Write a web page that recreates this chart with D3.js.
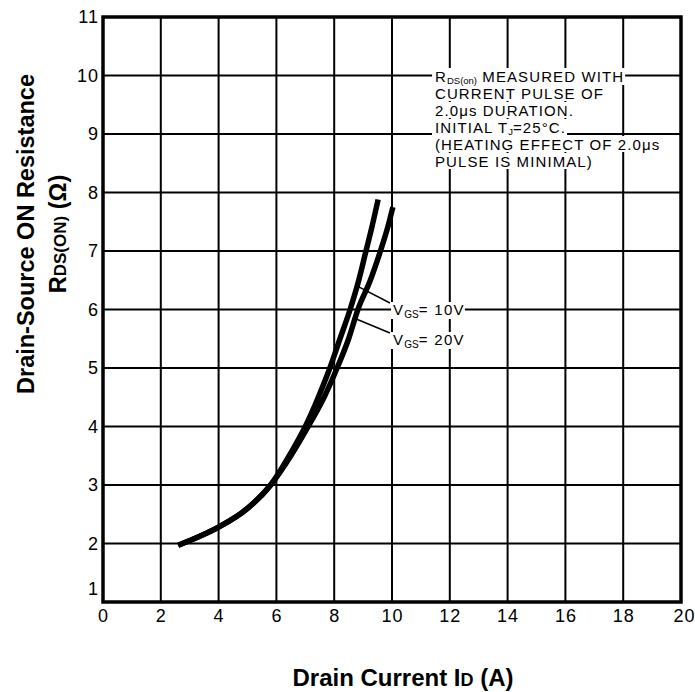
<!DOCTYPE html>
<html>
<head>
<meta charset="utf-8">
<script src="https://cdn.jsdelivr.net/npm/d3@7"></script>
<style>
  body { margin: 0; background: #fff; }
  text { font-family: "Liberation Sans", Arial, Helvetica, sans-serif; fill: #000; }
</style>
</head>
<body>
<div id="chart"></div>
<script>
// axis ticks
const xTicks = [0, 2, 4, 6, 8, 10, 12, 14, 16, 18, 20];
const yTicks = [1, 2, 3, 4, 5, 6, 7, 8, 9, 10, 11];

// curves: [Id (A), Rds(on) (ohm)]
const vgs10 = [[2.6, 1.97], [3, 2.05], [4, 2.28], [5, 2.6], [5.8, 3.0], [6.5, 3.55], [7.0, 4.0],
  [7.45, 4.5], [7.85, 5.0], [8.2, 5.5], [8.55, 6.0], [8.85, 6.5], [9.1, 7.0], [9.3, 7.4], [9.52, 7.88]];
const vgs20 = [[2.6, 1.97], [3, 2.05], [4, 2.28], [5, 2.6], [5.8, 3.0], [6.5, 3.5], [7.1, 4.0],
  [7.65, 4.5], [8.1, 5.0], [8.5, 5.5], [8.82, 6.0], [9.25, 6.5], [9.6, 7.0], [9.85, 7.4], [10.03, 7.75]];

// where the label leaders touch each curve
const leaderPoints = [[8.8, 6.4], [8.7, 5.85]];
const curveLabels = ["10V", "20V"];

(function () {

    const width = 695;
    const height = 692;

    const svg = d3.select('#chart')
        .append('svg')
        .attr('width', width)
        .attr('height', height);

    const x = d3.scaleLinear().domain([0, 20]).range([103, 681]);
    const y = d3.scaleLinear().domain([1, 11]).range([602, 17]);

    // grid
    svg.append('g')
        .selectAll('line')
        .data(xTicks.slice(1, -1))
        .join('line')
        .attr('x1', d => x(d)).attr('x2', d => x(d))
        .attr('y1', y(11)).attr('y2', y(1))
        .attr('stroke', '#000').attr('stroke-width', 2);

    svg.append('g')
        .selectAll('line')
        .data(yTicks.slice(1, -1))
        .join('line')
        .attr('x1', x(0)).attr('x2', x(20))
        .attr('y1', d => y(d)).attr('y2', d => y(d))
        .attr('stroke', '#000').attr('stroke-width', 2);

    // note text with white backing behind each line
    const note = svg.append('g');
    const noteLines = [
        [["R", 0], ["DS(on)", 1], [" MEASURED WITH", 0]],
        [["CURRENT PULSE OF", 0]],
        [["2.0\u03bcs DURATION.", 0]],
        [["INITIAL T", 0], ["J", 1], ["=25\u00b0C.", 0]],
        [["(HEATING EFFECT OF 2.0\u03bcs", 0]],
        [["PULSE IS MINIMAL)", 0]]
    ];
    noteLines.forEach((parts, i) => {
        const t = note.append('text')
            .attr('x', 435)
            .attr('y', 82 + i * 17)
            .attr('font-size', 15)
            .attr('letter-spacing', 1.1);
        parts.forEach((p, j) => {
            t.append('tspan')
                .attr('font-size', p[1] ? 9.5 : 15)
                .attr('letter-spacing', p[1] ? 0 : 1.1)
                .attr('dy', p[1] ? 2 : (j > 0 ? -2 : 0))
                .text(p[0]);
        });
        const b = t.node().getBBox();
        note.insert('rect', 'text')
            .attr('x', b.x - 3).attr('y', b.y)
            .attr('width', b.width + 4).attr('height', b.height - 1)
            .attr('fill', '#fff');
    });

    // Vgs labels
    const lab = svg.append('g');
    curveLabels.forEach((v, i) => {
        const t = lab.append('text')
            .attr('x', 393)
            .attr('y', 315 + i * 30)
            .attr('font-size', 15)
            .attr('letter-spacing', 1.3);
        t.append('tspan').text('V');
        t.append('tspan').attr('font-size', 10).attr('letter-spacing', 0).attr('dy', 3).text('GS');
        t.append('tspan').attr('dy', -3).text('= ' + v);
        const b = t.node().getBBox();
        lab.insert('rect', 'text')
            .attr('x', b.x - 2).attr('y', b.y + 1)
            .attr('width', b.width + 2).attr('height', b.height - 2)
            .attr('fill', '#fff');
    });

    lab.selectAll('line')
        .data(leaderPoints)
        .join('line')
        .attr('x1', d => x(d[0])).attr('y1', d => y(d[1]))
        .attr('x2', 390).attr('y2', (d, i) => 303 + i * 30)
        .attr('stroke', '#000').attr('stroke-width', 1.5);

    // frame
    svg.append('rect')
        .attr('x', x(0)).attr('y', y(11))
        .attr('width', x(20) - x(0)).attr('height', y(1) - y(11))
        .attr('fill', 'none')
        .attr('stroke', '#000')
        .attr('stroke-width', 3.5);

    // curves
    const line = d3.line()
        .x(d => x(d[0]))
        .y(d => y(d[1]))
        .curve(d3.curveMonotoneX);

    svg.append('g')
        .selectAll('path')
        .data([vgs10, vgs20])
        .join('path')
        .attr('d', line)
        .attr('fill', 'none')
        .attr('stroke', '#000')
        .attr('stroke-width', 5.5);

    // tick labels
    const xAxis = svg.append('g')
        .attr('transform', `translate(0,${y(1)})`)
        .call(d3.axisBottom(x).tickValues(xTicks).tickSize(0).tickPadding(7));
    xAxis.select('.domain').remove();
    xAxis.selectAll('text')
        .attr('font-size', 18)
        .attr('letter-spacing', 1)
        .attr('font-family', null)
        .attr('dx', d => d == 20 ? 3 : 0);

    const yAxis = svg.append('g')
        .attr('transform', `translate(${x(0)},0)`)
        .call(d3.axisLeft(y).tickValues(yTicks).tickSize(0).tickPadding(4));
    yAxis.select('.domain').remove();
    yAxis.selectAll('text')
        .attr('font-size', 18)
        .attr('letter-spacing', 1)
        .attr('font-family', null)
        .attr('dy', d => d == 1 ? '-0.4em' : '0.32em');

    // titles
    const xt = svg.append('text')
        .attr('x', 403)
        .attr('y', 686)
        .attr('text-anchor', 'middle')
        .attr('font-size', 24)
        .attr('font-weight', 'bold');
    xt.append('tspan').text('Drain Current I');
    xt.append('tspan').attr('font-size', 18).text('D');
    xt.append('tspan').text(' (A)');

    const yt = svg.append('g')
        .attr('transform', 'translate(0,234) rotate(-90)');
    yt.append('text')
        .attr('x', 0).attr('y', 34)
        .attr('text-anchor', 'middle')
        .attr('font-size', 23.5)
        .attr('font-weight', 'bold')
        .text('Drain-Source ON Resistance');
    const yt2 = yt.append('text')
        .attr('x', 0).attr('y', 66)
        .attr('text-anchor', 'middle')
        .attr('font-size', 23.5)
        .attr('font-weight', 'bold');
    yt2.append('tspan').text('R');
    yt2.append('tspan').attr('font-size', 17).text('DS(ON)');
    yt2.append('tspan').text(' (\u03a9)');

})();
</script>
</body>
</html>
